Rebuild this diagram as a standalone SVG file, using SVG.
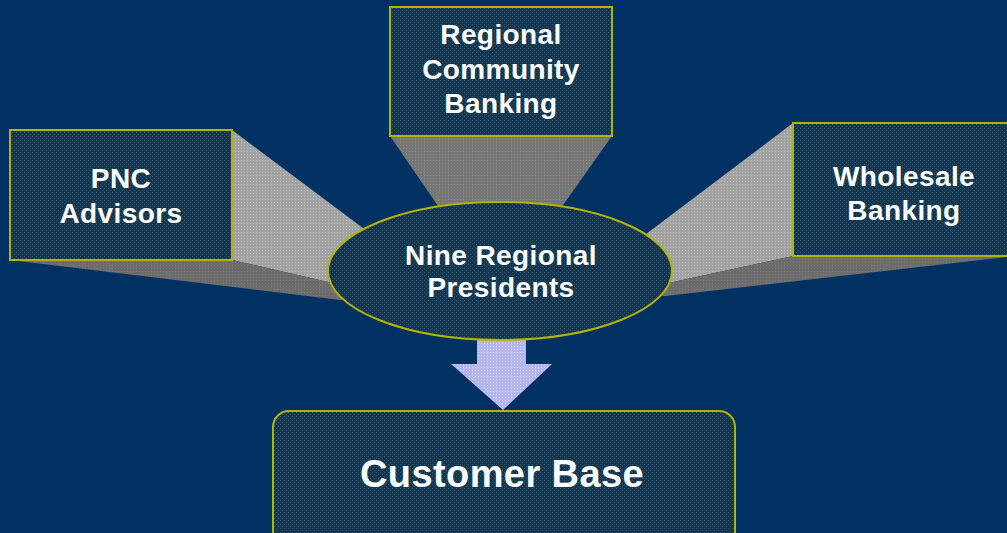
<svg xmlns="http://www.w3.org/2000/svg" width="1007" height="533" viewBox="0 0 1007 533">
  <defs>
    <!-- dithered fills -->
    <pattern id="navyDots" width="4" height="4" patternUnits="userSpaceOnUse">
      <rect width="4" height="4" fill="#163552"/>
      <rect x="0" y="0" width="1" height="1" fill="#2a5c5e"/>
      <rect x="2" y="2" width="1" height="1" fill="#2a5c5e"/>
    </pattern>
    <pattern id="lightDots" width="3" height="3" patternUnits="userSpaceOnUse">
      <rect width="3" height="3" fill="#a2a2a2"/>
      <rect x="1" y="1" width="1" height="1" fill="#c0c0c0"/>
    </pattern>
    <pattern id="darkDots" width="3" height="3" patternUnits="userSpaceOnUse">
      <rect width="3" height="3" fill="#6c6c6c"/>
      <rect x="1" y="1" width="1" height="1" fill="#7c7c7c"/>
    </pattern>
    <pattern id="midDots" width="3" height="3" patternUnits="userSpaceOnUse">
      <rect width="3" height="3" fill="#767676"/>
      <rect x="1" y="1" width="1" height="1" fill="#888888"/>
    </pattern>
    <pattern id="lavDots" width="3" height="3" patternUnits="userSpaceOnUse">
      <rect width="3" height="3" fill="#b6b6ee"/>
      <rect x="1" y="1" width="1" height="1" fill="#d4d4fa"/>
    </pattern>
  </defs>
  <style>
    .box { fill: url(#navyDots); stroke: #b4b400; stroke-width: 2; }
    .light { fill: url(#lightDots); }
    .dark { fill: url(#darkDots); }
    .mid { fill: url(#midDots); }
    .label { font-family: "Liberation Sans", Arial, sans-serif; font-weight: bold; fill: #ffffff; text-anchor: middle; font-size: 28px; letter-spacing: 0.4px; }
    .big { font-size: 38px; }
  </style>

  <rect width="1007" height="533" fill="#003163"/>

  <!-- extruded faces running from each unit toward the centre -->
  <g id="connectors">
    <polygon class="light" points="232,130 232,260 407,300 407,261"/>
    <polygon class="dark" points="10,260 232,260 407,300 340,300"/>
    <polygon class="mid" points="390,136 612,136 551,222 449,222"/>
    <polygon class="light" points="793,123 793,256 609,296 609,262"/>
    <polygon class="dark" points="793,256 1015,256 666,296 609,296"/>
    <!-- downward arrow to the customer base -->
    <polygon fill="url(#lavDots)" points="477,320 526,320 526,364 552,364 503,410 451,364 477,364"/>
  </g>

  <g id="pnc-advisors">
    <rect class="box" x="10" y="130" width="222" height="130"/>
    <text class="label" x="121" y="188">PNC</text>
    <text class="label" x="121" y="223">Advisors</text>
  </g>

  <g id="regional-community-banking">
    <rect class="box" x="390" y="7" width="222" height="129"/>
    <text class="label" x="501" y="44">Regional</text>
    <text class="label" x="501" y="79">Community</text>
    <text class="label" x="501" y="113">Banking</text>
  </g>

  <g id="wholesale-banking">
    <rect class="box" x="793" y="123" width="222" height="133"/>
    <text class="label" x="904" y="186">Wholesale</text>
    <text class="label" x="904" y="220">Banking</text>
  </g>

  <g id="regional-presidents">
    <ellipse class="box" cx="500" cy="271" rx="172" ry="69" stroke-width="1.5"/>
    <text class="label" x="501" y="265">Nine Regional</text>
    <text class="label" x="501" y="297">Presidents</text>
  </g>

  <g id="customer-base">
    <rect class="box" x="273" y="411" width="462" height="140" rx="16" ry="16"/>
    <text class="label big" x="502" y="487">Customer Base</text>
  </g>
</svg>
